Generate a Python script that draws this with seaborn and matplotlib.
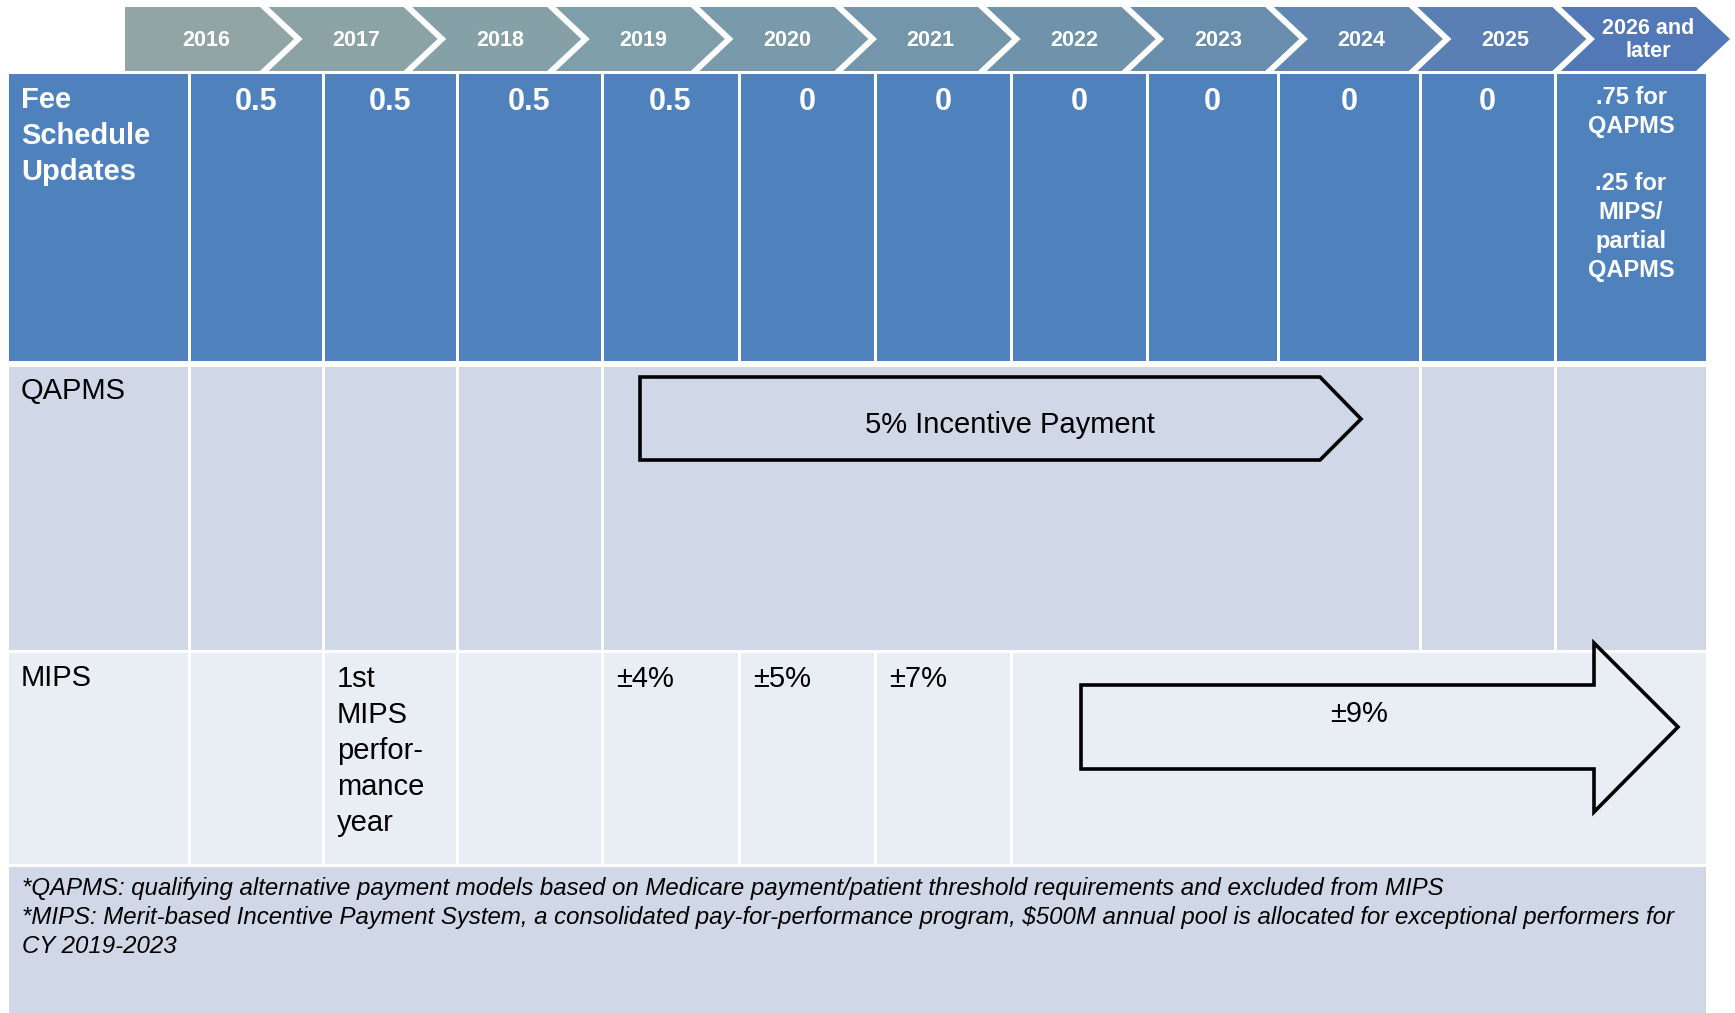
import numpy as np
import matplotlib
matplotlib.use("Agg")
import matplotlib.pyplot as plt
import seaborn as sns
from matplotlib.patches import Polygon, Rectangle

sns.set_theme(style="white")
plt.rcParams['font.family'] = ['Liberation Sans', 'DejaVu Sans']

# ---------------------------------------------------------------------------
# content
# ---------------------------------------------------------------------------
years = ['2016', '2017', '2018', '2019', '2020', '2021', '2022', '2023',
         '2024', '2025', '2026 and\nlater']
fee_updates = ['0.5', '0.5', '0.5', '0.5', '0', '0', '0', '0', '0', '0',
               '.75 for\nQAPMS\n\n.25 for\nMIPS/\npartial\nQAPMS']
row_labels = ['Fee\nSchedule\nUpdates', 'QAPMS', 'MIPS']
mips_cells = {1: '1st\nMIPS\nperfor-\nmance\nyear', 3: '\u00b14%', 4: '\u00b15%', 5: '\u00b17%'}
qapms_arrow_text = '5% Incentive Payment'
qapms_arrow_years = ('2019', '2024')
mips_arrow_text = '\u00b19%'
footnotes = ['*QAPMS: qualifying alternative payment models based on Medicare payment/patient threshold requirements and excluded from MIPS',
             '*MIPS: Merit-based Incentive Payment System, a consolidated pay-for-performance program, $500M annual pool is allocated for exceptional performers for',
             'CY 2019-2023']

# ---------------------------------------------------------------------------
# layout (pixel coordinates)
# ---------------------------------------------------------------------------
W, H = 1735, 1013
col_edges = [7, 189, 323, 457, 602, 739, 875, 1011, 1147, 1278, 1420, 1555, 1707]
row_edges = {'chev': (7, 71), 'fee': (74, 361), 'qapms': (367, 650),
             'mips': (653, 864), 'foot': (867, 1013)}
gap = 3

c_header = '#4F81BD'
c_dark_row = '#D0D8E8'
c_light_row = '#E9EDF4'
chev_colors = sns.blend_palette(['#92A5A5', '#7C9DA9', '#6B90AC', '#5278B8'], len(years))

fig = plt.figure(figsize=(W / 100, H / 100), dpi=100)
ax = fig.add_axes([0, 0, 1, 1])
ax.set_xlim(0, W)
ax.set_ylim(H, 0)
ax.axis('off')


def cell(x0, x1, y0, y1, color):
    ax.add_patch(Rectangle((x0 + gap / 2, y0), x1 - x0 - gap, y1 - y0,
                           facecolor=color, edgecolor='none'))


# chevrons
chev_left, chev_pitch, chev_w, chev_d = 125, 143.6, 135, 34
y0, y1 = row_edges['chev']
ym = (y0 + y1) / 2
for k, (yr, colr) in enumerate(zip(years, chev_colors)):
    L = chev_left + k * chev_pitch
    notch = 0 if k == 0 else chev_d
    pts = [(L, y0), (L + chev_w, y0), (L + chev_w + chev_d, ym),
           (L + chev_w, y1), (L, y1), (L + notch, ym)]
    ax.add_patch(Polygon(pts, closed=True, facecolor=colr, edgecolor='none'))
    ax.text(L + (chev_w + chev_d) / 2 + (-3 if k == 0 else 3), ym + 1, yr,
            ha='center', va='center', color='white', fontsize=15.5,
            fontweight='bold', linespacing=1.1)

# fee schedule row
y0, y1 = row_edges['fee']
for i in range(len(col_edges) - 1):
    cell(col_edges[i], col_edges[i + 1], y0, y1, c_header)
ax.text(col_edges[0] + 14, y0 + 12, row_labels[0], ha='left', va='top',
        color='white', fontsize=21, fontweight='bold', linespacing=1.36)
for i, val in enumerate(fee_updates):
    xc = (col_edges[i + 1] + col_edges[i + 2]) / 2
    if '\n' in val:
        ax.text(xc, y0 + 12, val, ha='center', va='top', color='white',
                fontsize=17, fontweight='bold', linespacing=1.32)
    else:
        ax.text(xc, y0 + 28, val, ha='center', va='center', color='white',
                fontsize=22, fontweight='bold')

# QAPMS row
y0, y1 = row_edges['qapms']
ia = years.index(qapms_arrow_years[0]) + 1
ib = years.index(qapms_arrow_years[1]) + 2
qapms_cols = col_edges[:ia + 1] + col_edges[ib:]
for i in range(len(qapms_cols) - 1):
    cell(qapms_cols[i], qapms_cols[i + 1], y0, y1, c_dark_row)
ax.text(col_edges[0] + 14, y0 + 24, row_labels[1], ha='left', va='center',
        color='black', fontsize=21)
ax.add_patch(Polygon([(640, 377), (1320, 377), (1361, 419), (1320, 460),
                      (640, 460)], closed=True, facecolor=c_dark_row,
                     edgecolor='black', linewidth=2.6, joinstyle='miter'))
ax.text(1010, 425, qapms_arrow_text, ha='center', va='center',
        color='black', fontsize=21)

# MIPS row
y0, y1 = row_edges['mips']
mips_cols = col_edges[:8] + [col_edges[-1]]
for i in range(len(mips_cols) - 1):
    cell(mips_cols[i], mips_cols[i + 1], y0, y1, c_light_row)
ax.text(col_edges[0] + 14, y0 + 25, row_labels[2], ha='left', va='center',
        color='black', fontsize=21)
for i, txt in mips_cells.items():
    ax.text(col_edges[i + 1] + 14, y0 + 12, txt, ha='left', va='top',
            color='black', fontsize=21, linespacing=1.36)
ax.add_patch(Polygon([(1081, 685), (1594, 685), (1594, 643), (1678, 727),
                      (1594, 812), (1594, 769), (1081, 769)], closed=True,
                     facecolor=c_light_row, edgecolor='black', linewidth=2.6,
                     joinstyle='miter'))
ax.text(1359, 714, mips_arrow_text, ha='center', va='center',
        color='black', fontsize=21)

# footnote
y0, y1 = row_edges['foot']
cell(col_edges[0], col_edges[-1], y0, y1 + 5, c_dark_row)
ax.text(col_edges[0] + 15, y0 + 10, '\n'.join(footnotes), ha='left', va='top',
        color='black', fontsize=17.3, style='italic', linespacing=1.33)

fig.savefig('out.png', dpi=100)
